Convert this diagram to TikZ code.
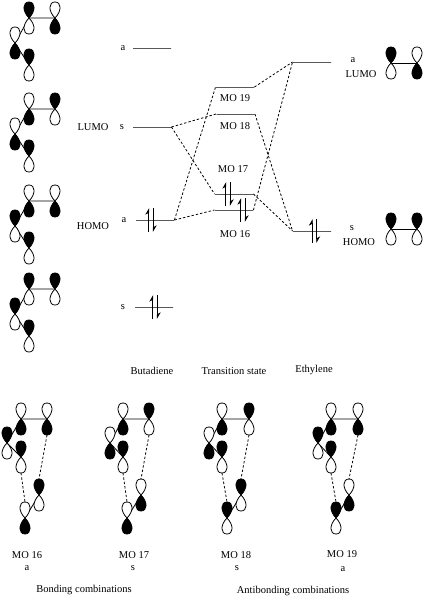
\documentclass[tikz,border=0pt]{standalone}
\usepackage{fontspec}
\setmainfont{Liberation Serif}
\usetikzlibrary{calc,arrows.meta,backgrounds}
\tikzset{
  lobe/.style={draw,line width=.8pt},
  bond/.style={line width=.8pt},
  level/.style={draw,rectangle,inner sep=0pt,minimum width=38pt,minimum height=0pt,line width=.9pt},
  mix/.style={dash pattern=on 2.4pt off 2pt,line width=.8pt},
  spin/.style={line width=.8pt,-{Stealth[left,length=6pt,width=7pt]}},
  lab/.style={inner sep=0pt,font=\fontsize{10.5}{12}\selectfont}
}
\newcommand{\lobes}[5]{
  \coordinate (#1) at (#2,#3);
  \coordinate (#1t) at (#2,#3-16);
  \coordinate (#1b) at (#2,#3+16);
  \draw[lobe,fill=#4,shift={(#2,#3)}] (0,0) .. controls (-7,-7) and (-6.5,-16) .. (0,-16) .. controls (6.5,-16) and (7,-7) .. (0,0);
  \draw[lobe,fill=#5,shift={(#2,#3)}] (0,0) .. controls (-7,7) and (-6.5,16) .. (0,16) .. controls (6.5,16) and (7,7) .. (0,0);
}
\newcommand{\porbT}[3]{\lobes{#1}{#2}{#3}{black}{white}}
\newcommand{\porbB}[3]{\lobes{#1}{#2}{#3}{white}{black}}
\newcommand{\spins}[2]{
  \draw[spin] ($(#1)+(#2-2.2,12)$) -- ($(#1)+(#2-2.2,-12)$);
  \draw[spin] ($(#1)+(#2+2.2,-12)$) -- ($(#1)+(#2+2.2,12)$);
}
\begin{document}
\begin{tikzpicture}[x=1pt,y=-1pt]
  \useasboundingbox (0,0) rectangle (425,599);
  \porbT{r1a}{29}{18} \porbB{r1b}{55}{18} \porbB{r1c}{15}{43} \porbT{r1d}{29}{65}
  \porbB{r2a}{29}{109} \porbT{r2b}{55}{109} \porbB{r2c}{15}{134} \porbT{r2d}{29}{156}
  \porbB{r3a}{29}{201} \porbB{r3b}{55}{201} \porbT{r3c}{15}{226} \porbT{r3d}{29}{248}
  \porbT{r4a}{29}{289} \porbT{r4b}{55}{289} \porbT{r4c}{15}{314} \porbT{r4d}{29}{336}
  \porbT{e1a}{391}{63} \porbB{e1b}{417}{63}
  \porbT{e2a}{391}{229} \porbT{e2b}{417}{229}
  \porbB{m16a}{21}{419} \porbB{m16b}{47}{419} \porbT{m16c}{7}{443} \porbT{m16d}{21}{457}
  \porbB{m16e}{25}{518} \porbT{m16f}{39}{495}
  \porbB{m17a}{123}{419} \porbT{m17b}{149}{419} \porbB{m17c}{110}{443} \porbT{m17d}{123}{457}
  \porbB{m17e}{127}{518} \porbB{m17f}{141}{495}
  \porbB{m18a}{222}{419} \porbT{m18b}{249}{419} \porbB{m18c}{209}{443} \porbT{m18d}{222}{457}
  \porbT{m18e}{227}{518} \porbT{m18f}{241}{495}
  \porbB{m19a}{331}{419} \porbB{m19b}{358}{419} \porbT{m19c}{318}{443} \porbT{m19d}{331}{457}
  \porbT{m19e}{336}{518} \porbB{m19f}{349}{495}
  \begin{scope}[on background layer]
    \draw[bond] (r1a) -- (r1b) (r1a) -- (r1c) -- (r1d);
    \draw[bond] (r2a) -- (r2b) (r2a) -- (r2c) -- (r2d);
    \draw[bond] (r3a) -- (r3b) (r3a) -- (r3c) -- (r3d);
    \draw[bond] (r4a) -- (r4b) (r4a) -- (r4c) -- (r4d);
    \draw[bond] (e1a) -- (e1b);
    \draw[bond] (e2a) -- (e2b);
    \draw[bond] (m16a) -- (m16b) (m16a) -- (m16c) -- (m16d) (m16e) -- (m16f);
    \draw[bond] (m17a) -- (m17b) (m17a) -- (m17c) -- (m17d) (m17e) -- (m17f);
    \draw[bond] (m18a) -- (m18b) (m18a) -- (m18c) -- (m18d) (m18e) -- (m18f);
    \draw[bond] (m19a) -- (m19b) (m19a) -- (m19c) -- (m19d) (m19e) -- (m19f);
  \end{scope}
  \path[mix] (m16db) edge (m16et);
  \path[mix] (m16bb) edge (m16ft);
  \path[mix] (m17db) edge (m17et);
  \path[mix] (m17bb) edge (m17ft);
  \path[mix] (m18db) edge (m18et);
  \path[mix] (m18bb) edge (m18ft);
  \path[mix] (m19db) edge (m19et);
  \path[mix] (m19bb) edge (m19ft);
  \node[level] (Ba1) at (152,48) {};
  \node[level] (Bs1) at (152,127) {};
  \node[level] (Ba2) at (155,220) {};
  \node[level] (Bs2) at (154,307) {};
  \node[level] (T19) at (235,87) {};
  \node[level] (T18) at (235.5,114) {};
  \node[level] (T17) at (234,194) {};
  \node[level] (T16) at (234,210) {};
  \node[level] (EL) at (312,62) {};
  \node[level] (EH) at (312,231) {};
  \spins{Ba2}{-4}
  \spins{Bs2}{1}
  \spins{T17}{-6}
  \spins{T16}{9}
  \spins{EH}{2.5}
  \path[mix] (Ba2.east) edge (T19.west);
  \path[mix] (Ba2.east) edge (T16.west);
  \path[mix] (Bs1.east) edge (T18.west);
  \path[mix] (Bs1.east) edge (T17.west);
  \path[mix] (T19.east) edge (EL.west);
  \path[mix] (T16.east) edge (EL.west);
  \path[mix] (T18.east) edge (EH.west);
  \path[mix] (T17.east) edge (EH.west);
  \node[lab] (la1) at (123,48) {a};
  \node[lab] (ls1) at (122,127) {s};
  \node[lab] (la2) at (124,220) {a};
  \node[lab] (ls2) at (123,307) {s};
  \node[lab] (lLb) at (93,127) {LUMO};
  \node[lab] (lHb) at (93,226) {HOMO};
  \node[lab] (l19) at (235,98) {MO 19};
  \node[lab] (l18) at (235,126) {MO 18};
  \node[lab] (l17) at (233,169) {MO 17};
  \node[lab] (l16) at (235,234) {MO 16};
  \node[lab] (lae) at (353,60) {a};
  \node[lab] (lLe) at (361,74) {LUMO};
  \node[lab] (lse) at (352,228) {s};
  \node[lab] (lHe) at (359,242) {HOMO};
  \node[lab] (tB) at (152,371) {Butadiene};
  \node[lab] (tT) at (234,371) {Transition state};
  \node[lab] (tE) at (314,370) {Ethylene};
  \node[lab] (n16) at (27,555) {MO 16};
  \node[lab] (s16) at (27,568) {a};
  \node[lab] (n17) at (134,555) {MO 17};
  \node[lab] (s17) at (133,568) {s};
  \node[lab] (n18) at (236,555) {MO 18};
  \node[lab] (s18) at (237,568) {s};
  \node[lab] (n19) at (342,554) {MO 19};
  \node[lab] (s19) at (343,569) {a};
  \node[lab] (tBo) at (84,590) {Bonding combinations};
  \node[lab] (tAn) at (293,591) {Antibonding combinations};
\end{tikzpicture}
\end{document}
